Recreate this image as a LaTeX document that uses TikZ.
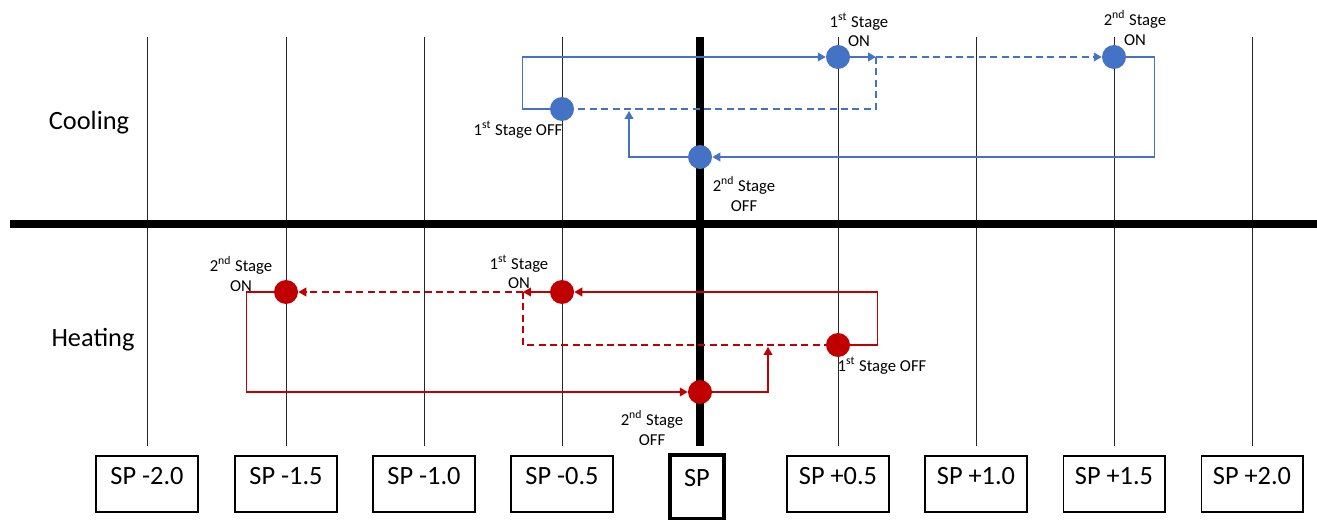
\documentclass[tikz,border=0pt]{standalone}
\usepackage{fontspec}
\setmainfont{Carlito}
\usetikzlibrary{arrows.meta}
\definecolor{coolblue}{HTML}{4472C4}
\definecolor{heatred}{HTML}{C00000}
\tikzset{
  dot/.style={circle,fill=#1,inner sep=0pt,minimum size=0.48cm},
  flow/.style={draw=#1,line width=0.7pt,-{Triangle[length=4.5pt,width=5pt]}},
  link/.style={draw=#1,line width=0.7pt},
  longdash/.style={dash pattern=on 4pt off 2.5pt},
  stagelbl/.style={align=center,inner sep=0pt,font=\fontsize{9.5}{11.3}\selectfont},
  spbox/.style={draw,line width=0.6pt,minimum width=2.04cm,minimum height=1.12cm,
                text depth=9pt,font=\fontsize{15}{18}\selectfont},
}
\begin{document}
\begin{tikzpicture}[x=0.02cm,y=-0.02cm]
       \useasboundingbox (0,0) rectangle (1317,520);
       % grid of set point lines
       \foreach \x in {147,286,424,562,838,976,1114,1252}
          \draw[line width=0.5pt,black!85] (\x,37) -- (\x,446);
       \draw[line width=4pt] (700,37) -- (700,446);
       \draw[line width=4pt] (10,224) -- (1317,224);
       % set point boxes
       \foreach \x/\t/\n in {147/SP -2.0/m20,286/SP -1.5/m15,424/SP -1.0/m10,562/SP -0.5/m05,
                             838/SP +0.5/p05,976/SP +1.0/p10,1114/SP +1.5/p15,1252/SP +2.0/p20}
          \node[spbox] (sp\n) at (\x,484) {\t};
       \node[draw,line width=2.4pt,minimum width=1.08cm,minimum height=1.28cm,
             text depth=10pt,font=\fontsize{15}{18}\selectfont] (sp) at (697,487) {SP};
       \node[font=\fontsize{15}{18}\selectfont] (cooling) at (89,123) {Cooling};
       \node[font=\fontsize{15}{18}\selectfont] (heating) at (93,340) {Heating};
       % cooling stages
       \node[dot=coolblue] (c1on) at (838,57) {};
       \node[dot=coolblue] (c2on) at (1114,57) {};
       \node[dot=coolblue] (c1off) at (562,109) {};
       \node[dot=coolblue] (c2off) at (700,157) {};
       \coordinate (cturn) at (876,57);
       \coordinate (cup) at (629,111);
       \draw[flow=coolblue] (c1off.west) -- ++(-27,0) |- (c1on);
       \draw[flow=coolblue] (c1on) -- (cturn);
       \draw[flow=coolblue,longdash] (cturn) -- (c2on);
       \draw[link=coolblue,longdash] (cturn) |- (c1off);
       \draw[flow=coolblue] (c2on.east) -- ++(28,0) |- (c2off);
       \draw[flow=coolblue] (c2off) -| (cup);
       \node[stagelbl] (c1onlbl) at (859,30) {1\textsuperscript{st} Stage\\ON};
       \node[stagelbl] (c2onlbl) at (1135,28) {2\textsuperscript{nd} Stage\\ON};
       \node[stagelbl] (c1offlbl) at (518,130) {1\textsuperscript{st} Stage OFF};
       \node[stagelbl] (c2offlbl) at (744,194) {2\textsuperscript{nd} Stage\\OFF};
       % heating stages
       \node[dot=heatred] (h2on) at (286,292) {};
       \node[dot=heatred] (h1on) at (562,292) {};
       \node[dot=heatred] (h1off) at (838,345) {};
       \node[dot=heatred] (h2off) at (700,392) {};
       \coordinate (hturn) at (523,292);
       \coordinate (hup) at (768,347);
       \draw[flow=heatred] (h1off.east) -- ++(27,0) |- (h1on);
       \draw[flow=heatred] (h1on) -- (hturn);
       \draw[flow=heatred,longdash] (hturn) -- (h2on);
       \draw[link=heatred,longdash] (hturn) |- (h1off);
       \draw[flow=heatred] (h2on.west) -- ++(-27,0) |- (h2off);
       \draw[flow=heatred] (h2off) -| (hup);
       \node[stagelbl] (h2onlbl) at (241,274) {2\textsuperscript{nd} Stage\\ON};
       \node[stagelbl] (h1onlbl) at (519,272) {1\textsuperscript{st} Stage\\ON};
       \node[stagelbl] (h1offlbl) at (882,366) {1\textsuperscript{st} Stage OFF};
       \node[stagelbl] (h2offlbl) at (652,428) {2\textsuperscript{nd} Stage\\OFF};
\end{tikzpicture}
\end{document}
